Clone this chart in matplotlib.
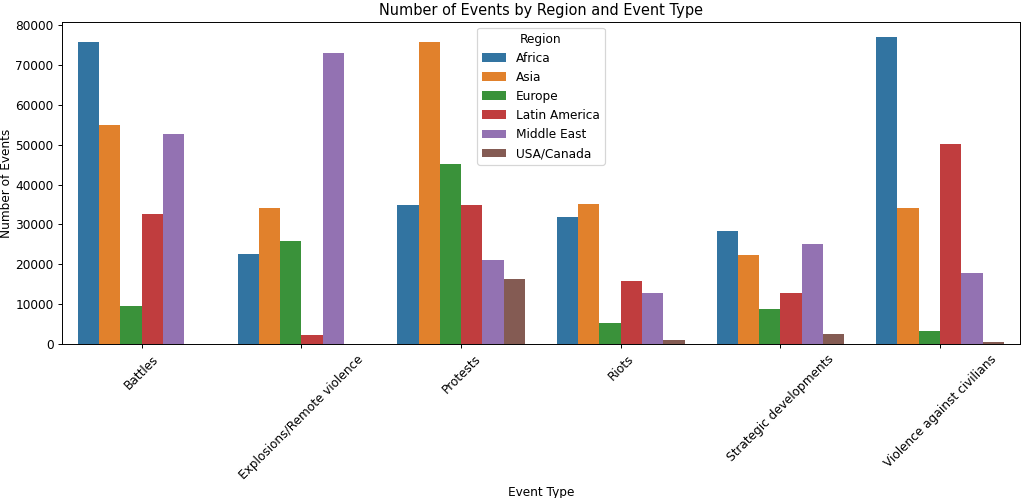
import matplotlib

matplotlib.use("Agg")
import matplotlib.pyplot as plt
import numpy as np
import pandas as pd
import seaborn as sns

event_types = [
    "Battles",
    "Explosions/Remote violence",
    "Protests",
    "Riots",
    "Strategic developments",
    "Violence against civilians",
]
regions = ["Africa", "Asia", "Europe", "Latin America", "Middle East", "USA/Canada"]

# event counts per region, in event_types order (None = no bar)
africa = [75700, 22600, 34900, 31800, 28300, 76900]
asia = [55000, 34000, 75700, 35100, 22300, 34000]
europe = [9500, 25800, 45100, 5400, 8800, 3200]
latin_america = [32500, 2400, 34900, 15700, 12800, 50100]
middle_east = [52700, 72900, 21000, 12900, 25100, 17900]
usa_canada = [None, None, 16400, 1000, 2500, 450]

counts = {
    "Africa": africa,
    "Asia": asia,
    "Europe": europe,
    "Latin America": latin_america,
    "Middle East": middle_east,
    "USA/Canada": usa_canada,
}

rows = []
for region in regions:
    for event, value in zip(event_types, counts[region]):
        if value is not None:
            rows.append({"event_type": event, "region": region, "events": value})
df = pd.DataFrame(rows)

dpi = 87
fig = plt.figure(figsize=(1024 / dpi, 498 / dpi), dpi=dpi)
ax = sns.barplot(
    data=df,
    x="event_type",
    y="events",
    hue="region",
    order=event_types,
    hue_order=regions,
    errorbar=None,
)
ax.set_title("Number of Events by Region and Event Type")
ax.set_xlabel("Event Type")
ax.set_ylabel("Number of Events", labelpad=1.5)
plt.xticks(rotation=45)
ax.legend(title="Region", loc="upper center")
fig.subplots_adjust(left=0.0605, right=0.996, top=0.956, bottom=0.309)
plt.savefig("out.png", dpi=dpi)
plt.close()
